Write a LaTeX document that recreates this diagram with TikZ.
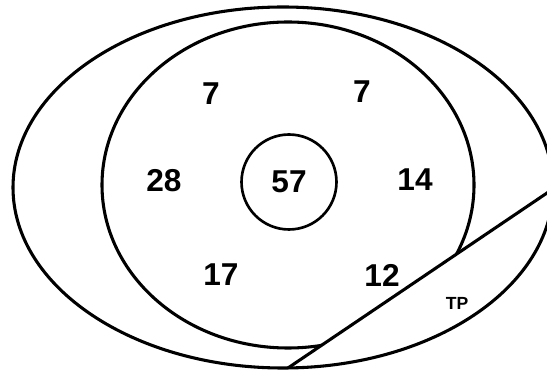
\documentclass[tikz,border=0pt]{standalone}
\usepackage{fontspec}
\setmainfont{Liberation Sans}

\begin{document}
\begin{tikzpicture}[x=0.02cm, y=-0.02cm, line width=1.75pt,
  num/.style={font=\fontsize{18}{20}\selectfont\bfseries, inner sep=0pt},
  tag/.style={font=\fontsize{10}{11}\selectfont\bfseries, inner sep=0pt}]
  \clip (0,0) rectangle (547,374);
  % Outer set
  \draw (283,187.5) ellipse [x radius=270, y radius=180.5];
  % TP cut
  \coordinate (tpA) at (285,370);
  \coordinate (tpB) at (600,157.2);
  \begin{scope}
    \clip (283,187.5) ellipse [x radius=270, y radius=180.5];
    \draw (tpA) -- (tpB);
  \end{scope}
  % Inner set, stops at the cut
  \begin{scope}
    \clip (0,0) -- (0,400) -- (tpA) -- (tpB) -- (600,0) -- cycle;
    \draw (288,185) ellipse [x radius=186, y radius=163];
  \end{scope}
  % Core
  \node[num,circle,draw,line width=1.5pt,minimum size=1.9cm] (core) at (289,182) {57};
  % Counts
  \node[num] (tl) at (211,94) {7};
  \node[num] (tr) at (362,92) {7};
  \node[num] (lf) at (164,181) {28};
  \node[num] (rt) at (415,180) {14};
  \node[num] (bl) at (221,275) {17};
  \node[num] (br) at (382,275) {12};
  \node[tag] (tp) at (457,303) {TP};
\end{tikzpicture}
\end{document}
